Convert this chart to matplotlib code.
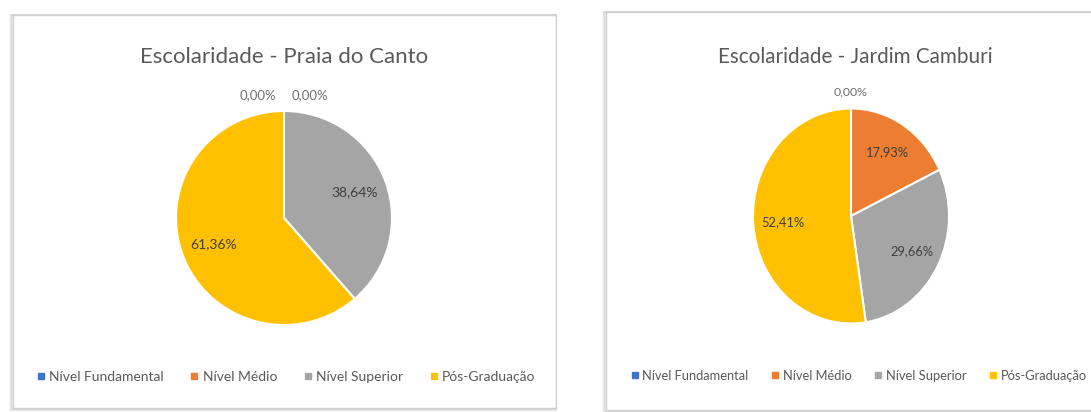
"""Two Excel-style pie charts: schooling levels in Praia do Canto and Jardim Camburi."""

import math

import matplotlib.pyplot as plt
from matplotlib.patches import Rectangle
from matplotlib.lines import Line2D

plt.rcParams["font.family"] = ["Lato", "DejaVu Sans"]

W, H = 1091, 412

categories = ["Nível Fundamental", "Nível Médio", "Nível Superior", "Pós-Graduação"]
praia_values = [0.00, 0.00, 38.64, 61.36]
camburi_values = [0.00, 17.93, 29.66, 52.41]
colors = ["#4472C4", "#ED7D31", "#A5A5A5", "#FFC000"]

PANELS = [
    # title, values, box (x0, y0, x1, y1), pie centre/radii, title x, legend centre, font scale
    ("Escolaridade - Praia do Canto", praia_values, (13, 15, 556, 408),
     (284, 218, 108, 107), 284, (286, 377), 1.0),
    ("Escolaridade - Jardim Camburi", camburi_values, (606, 12, 1100, 410),
     (851, 216, 98, 107.5), 855, (859, 376), 0.93),
]


def fx(x):
    return x / W


def fy(y):
    return 1 - y / H


def pct(v):
    return f"{v:.2f}".replace(".", ",") + "%"


fig = plt.figure(figsize=(W / 100, H / 100), dpi=100)
fig.patch.set_facecolor("white")

for title, values, box, pie_geom, title_x, leg_c, scale in PANELS:
    x0, y0, x1, y1 = box
    # soft shadow then panel frame
    for i, a in enumerate([0.10, 0.07, 0.04]):
        d = i + 1
        fig.patches.append(Rectangle((fx(x0 - d), fy(y1 + d)), (x1 - x0 + d) / W,
                                     (y1 - y0 + d) / H, transform=fig.transFigure,
                                     facecolor="none", edgecolor="black", alpha=a,
                                     linewidth=1.2, zorder=0))
    fig.patches.append(Rectangle((fx(x0), fy(y1)), (x1 - x0) / W, (y1 - y0) / H,
                                 transform=fig.transFigure, facecolor="white",
                                 edgecolor="#D0D0D0", linewidth=1.0, zorder=1))

    cx, cy, rx, ry = pie_geom
    fig.text(fx(title_x), fy(57), title, ha="center", va="center",
             fontsize=16 * scale, color="#595959", zorder=6)

    ax = fig.add_axes([fx(cx - rx), fy(cy + ry), 2 * rx / W, 2 * ry / H])
    ax.set_zorder(5)
    wedges, _ = ax.pie(values, colors=colors, startangle=90, counterclock=False,
                       radius=1, wedgeprops=dict(edgecolor="white", linewidth=1.5))
    ax.set_aspect("auto")
    ax.set_xlim(-1, 1)
    ax.set_ylim(-1, 1)
    ax.set_axis_off()

    # labels of empty slices sit above the pie, side by side
    zeros = [i for i, v in enumerate(values) if v == 0]
    for k, i in enumerate(zeros):
        off = (k - (len(zeros) - 1) / 2) * 0.48
        ax.text(off, 1.15, pct(values[i]), ha="center", va="center",
                fontsize=9.5 * scale, color="#707070", clip_on=False)

    start = 90.0
    for i, v in enumerate(values):
        sweep = v / sum(values) * 360
        if v > 0:
            mid = math.radians(start - sweep / 2)
            r = 0.7
            ax.text(r * math.cos(mid), r * math.sin(mid), pct(v), ha="center",
                    va="center", fontsize=10 * scale, color="#404040")
        start -= sweep

    handles = [Line2D([], [], marker="s", linestyle="none", markersize=4,
                      markerfacecolor=c, markeredgecolor=c) for c in colors]
    leg = fig.legend(handles, categories, loc="center",
                     bbox_to_anchor=(fx(leg_c[0]), fy(leg_c[1])), ncol=4, frameon=False,
                     fontsize=10 * scale, labelcolor="#595959", handlelength=0.6,
                     handletextpad=0.3, columnspacing=1.9 * scale)
    leg.set_zorder(6)

fig.savefig("out.png", dpi=100)
